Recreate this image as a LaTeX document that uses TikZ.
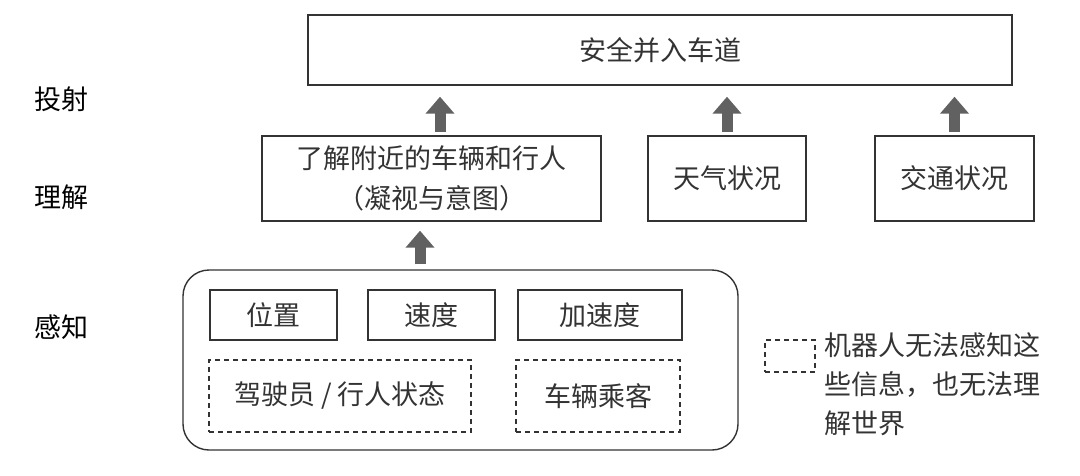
\documentclass[tikz,border=0pt]{standalone}
\usepackage{fontspec}
\setmainfont{Noto Sans CJK SC}
\usetikzlibrary{arrows.meta}
\definecolor{ln}{HTML}{333333}
\definecolor{arr}{HTML}{616161}
\definecolor{tx}{HTML}{333333}
\tikzset{
  x=1pt,y=-1pt,
  every node/.style={text=tx,font=\fontsize{27}{40}\selectfont,inner sep=0pt},
  solidbox/.style={draw=ln,line width=1.4pt},
  dashbox/.style={draw=ln,line width=1.4pt,dash pattern=on 5pt off 4pt},
  lvl/.style={font=\fontsize{27}{30}\selectfont,text=black,anchor=west},
  bigarrow/.style={draw=arr,line width=11pt,-{Triangle[width=28pt,length=17pt]},arr}
}
\begin{document}
\begin{tikzpicture}
\useasboundingbox (0,0) rectangle (1080,475);
% level labels
\node[lvl] (l1) at (34,99) {投射};
\node[lvl] (l2) at (34,197) {理解};
\node[lvl] (l3) at (34,327) {感知};
% top
\node[solidbox,minimum width=704pt,minimum height=70pt] (top) at (660,50) {安全并入车道};
% comprehension
\node[solidbox,minimum width=339pt,minimum height=85pt,align=center] (und) at (431.5,178.5) {了解附近的车辆和行人\\（凝视与意图）};
\node[solidbox,minimum width=158pt,minimum height=85pt] (wea) at (727,178.5) {天气状况};
\node[solidbox,minimum width=159pt,minimum height=85pt] (tra) at (954.5,178.5) {交通状况};
% perception container
\node[solidbox,rounded corners=26pt,minimum width=555pt,minimum height=180pt] (per) at (460.5,360) {};
\node[solidbox,minimum width=127pt,minimum height=50pt] (pos) at (273.5,315) {位置};
\node[solidbox,minimum width=127pt,minimum height=50pt] (vel) at (431.5,315) {速度};
\node[solidbox,minimum width=164pt,minimum height=50pt] (acc) at (600,315) {加速度};
\node[dashbox,minimum width=262pt,minimum height=72pt] (drv) at (340,396) {驾驶员 / 行人状态};
\node[dashbox,minimum width=164pt,minimum height=72pt] (pas) at (598,396) {车辆乘客};
% legend
\node[dashbox,minimum width=50pt,minimum height=32pt] (leg) at (790,356) {};
\node[anchor=north west,align=left,font=\fontsize{27}{39}\selectfont] (legt) at (824,332) {机器人无法感知这\\些信息，也无法理\\解世界};
% arrows
\draw[bigarrow] ([xshift=8.5pt,yshift=3pt]und.north) -- ([xshift=-220pt,yshift=-11pt]top.south);
\draw[bigarrow] ([yshift=3pt]wea.north) -- ([xshift=67pt,yshift=-11pt]top.south);
\draw[bigarrow] ([yshift=3pt]tra.north) -- ([xshift=294.5pt,yshift=-11pt]top.south);
\draw[bigarrow] ([xshift=-40.5pt,yshift=5pt]per.north) -- ([xshift=-11.5pt,yshift=-9pt]und.south);
\end{tikzpicture}
\end{document}
